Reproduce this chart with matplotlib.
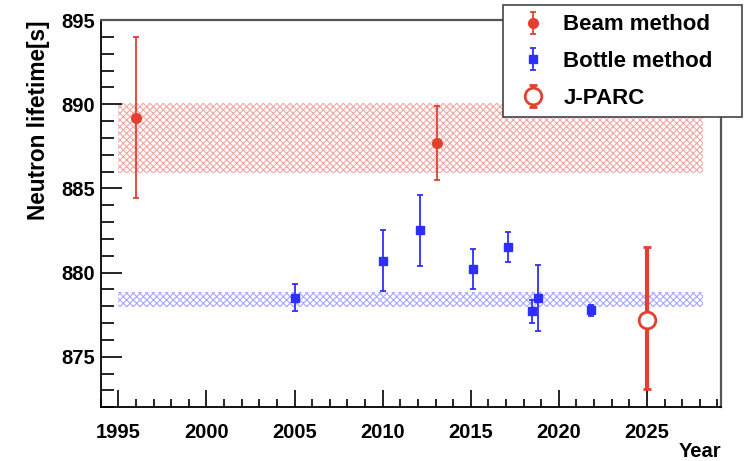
import matplotlib
matplotlib.use("Agg")
import matplotlib.pyplot as plt
from matplotlib.patches import Rectangle
from matplotlib.ticker import MultipleLocator
from matplotlib.container import ErrorbarContainer
from matplotlib.legend_handler import HandlerErrorbar

beam_year = [1996.0, 2013.1]
beam_tau = [889.2, 887.7]
beam_err = [4.8, 2.2]

bottle_year = [2005.0, 2010.0, 2012.1, 2015.1, 2017.1, 2018.5, 2018.8, 2021.8]
bottle_tau = [878.5, 880.7, 882.5, 880.2, 881.5, 877.7, 878.5, 877.75]
bottle_err = [0.8, 1.8, 2.1, 1.2, 0.9, 0.7, 1.95, 0.3]

jparc_year = [2025.0]
jparc_tau = [877.2]
jparc_err_lo = [4.1]
jparc_err_hi = [4.3]

# averaged bands: year range, lower, upper
beam_band_years = [1995.0, 2028.2]
beam_band = [885.9, 890.1]
bottle_band_years = [1995.0, 2028.2]
bottle_band = [877.95, 878.85]

red = "#e3402f"
blue = "#2e2eff"

plt.rcParams["font.family"] = ["Liberation Sans", "DejaVu Sans"]
plt.rcParams["font.weight"] = "bold"
plt.rcParams["hatch.linewidth"] = 0.8

fig = plt.figure(figsize=(7.44, 4.61), dpi=100)
ax = fig.add_axes([0.1354, 0.1165, 0.8336, 0.8401])

plt.rcParams["hatch.color"] = "#f2a8a4"
ax.fill_between(beam_band_years, beam_band[0], beam_band[1],
                facecolor="none", edgecolor="#f2a8a4", hatch="xxxxx", linewidth=0, zorder=1)
plt.rcParams["hatch.color"] = "#a8a8ff"
ax.fill_between(bottle_band_years, bottle_band[0], bottle_band[1],
                facecolor="none", edgecolor="#a8a8ff", hatch="xxxxx", linewidth=0, zorder=1)

h_beam = ax.errorbar(beam_year, beam_tau, yerr=beam_err, fmt="o", color=red,
                     markersize=7, elinewidth=1.3, capsize=2.5, capthick=1.3,
                     label="Beam method", zorder=3)
h_bottle = ax.errorbar(bottle_year, bottle_tau, yerr=bottle_err, fmt="s", color=blue,
                       markersize=5.5, elinewidth=1.3, capsize=2.5, capthick=1.3,
                       label="Bottle method", zorder=3)
h_jparc = ax.errorbar(jparc_year, jparc_tau, yerr=[jparc_err_lo, jparc_err_hi], fmt="o",
                      color=red, markerfacecolor="white", markeredgecolor=red,
                      markeredgewidth=2, markersize=12, elinewidth=3, capsize=3,
                      capthick=2, label="J-PARC", zorder=4)

ax.set_xlim(1994.0, 2029.2)
ax.set_ylim(872.0, 895.0)
ax.xaxis.set_major_locator(MultipleLocator(5))
ax.xaxis.set_minor_locator(MultipleLocator(1))
ax.yaxis.set_major_locator(MultipleLocator(5))
ax.yaxis.set_minor_locator(MultipleLocator(1))
ax.tick_params(axis="both", which="both", direction="in", labelsize=14.5, width=1.2)
ax.tick_params(axis="x", which="major", length=12, pad=11)
ax.tick_params(axis="x", which="minor", length=6)
ax.tick_params(axis="y", which="major", length=15, pad=4)
ax.tick_params(axis="y", which="minor", length=9)
for lab in ax.get_xticklabels() + ax.get_yticklabels():
    lab.set_fontweight("bold")

for side in ["left", "bottom"]:
    ax.spines[side].set_linewidth(1.3)
for side in ["top", "right"]:
    ax.spines[side].set_linewidth(1.6)
    ax.spines[side].set_color("#555555")

ax.set_ylabel("Neutron lifetime[s]", fontsize=16.3, fontweight="bold", loc="top")
ax.yaxis.set_label_coords(-0.0815, 1.0)
ax.set_xlabel("Year", fontsize=14.5, fontweight="bold", loc="right")
ax.xaxis.set_label_coords(1.0, -0.09)

# legend box sitting over the top right corner
fig.patches.append(Rectangle((503 / 744, 1 - 117 / 461), 239 / 744, 112 / 461,
                             transform=fig.transFigure, facecolor="white",
                             edgecolor="#444444", linewidth=1.2, zorder=5))
leg = fig.legend(handles=[h_beam, h_bottle, h_jparc], loc="upper left",
                 bbox_to_anchor=(511 / 744, 1 - 10 / 461), frameon=False,
                 fontsize=16, labelspacing=0.70, handlelength=1.6,
                 handletextpad=0.55, borderpad=0.2, borderaxespad=0,
                 handler_map={ErrorbarContainer: HandlerErrorbar(yerr_size=0.5, numpoints=1)})
leg.set_zorder(6)
for t in leg.get_texts():
    t.set_fontweight("bold")
jparc_handle = leg.legend_handles[2]
if hasattr(jparc_handle, "set_markersize"):
    jparc_handle.set_markersize(9)

fig.savefig("out.png", dpi=100)
